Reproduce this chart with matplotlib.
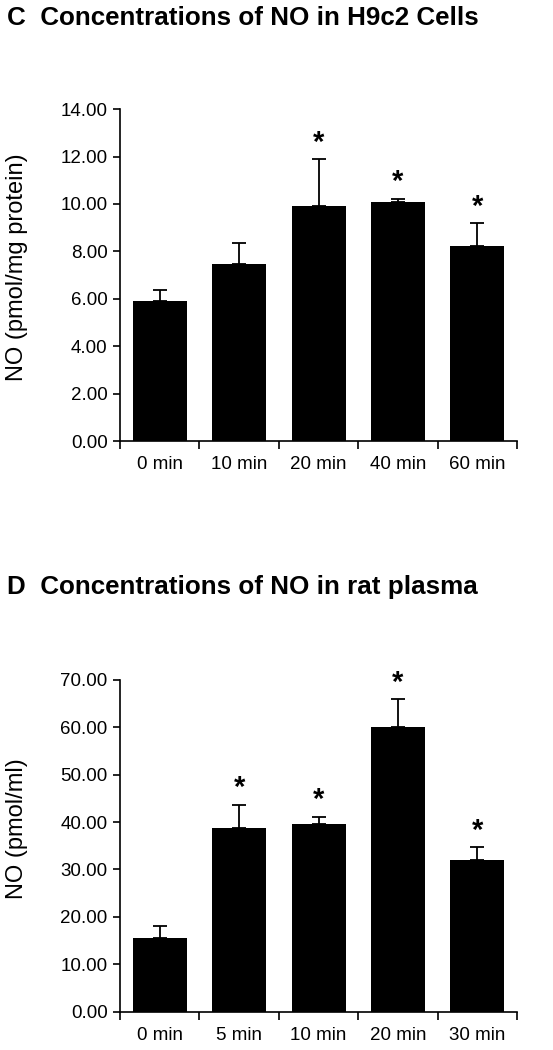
import matplotlib.pyplot as plt
import numpy as np

plt.rcParams['font.family'] = ['Liberation Sans', 'DejaVu Sans']

# panel C: H9c2 cells
cells_labels = ["0 min", "10 min", "20 min", "40 min", "60 min"]
cells_mean = [5.92, 7.45, 9.90, 10.08, 8.22]
cells_err = [0.45, 0.91, 1.98, 0.14, 0.96]
cells_sig = [False, False, True, True, True]

# panel D: rat plasma
plasma_labels = ["0 min", "5 min", "10 min", "20 min", "30 min"]
plasma_mean = [15.6, 38.7, 39.6, 60.1, 32.0]
plasma_err = [2.5, 4.9, 1.5, 5.8, 2.7]
plasma_sig = [False, True, True, True, True]


def draw_panel(ax, labels, mean, err, sig, ymax, step, ylabel, label_y):
    x = np.arange(len(labels))
    ax.bar(x, mean, width=0.68, color="black", zorder=2)
    ax.errorbar(x, mean, yerr=[np.zeros(len(err)), err], fmt="none",
                ecolor="black", elinewidth=1.3, capsize=5, capthick=1.3, zorder=3)
    for xi, m, e, s in zip(x, mean, err, sig):
        if s:
            ax.text(xi, m + e + ymax * 0.008, "*", ha="center", va="bottom",
                    fontsize=21, fontweight="bold")
    ax.set_xlim(-0.5, len(labels) - 0.5)
    ax.set_ylim(0, ymax)
    ticks = np.arange(0, ymax + step / 2, step)
    ax.set_yticks(ticks)
    ax.set_yticklabels([f"{v:.2f}" for v in ticks])
    ax.set_xticks(x)
    ax.set_xticklabels(labels)
    ax.set_xticks(np.arange(-0.5, len(labels)), minor=True)
    ax.tick_params(axis="x", which="major", length=0, pad=11, labelsize=13.5)
    ax.tick_params(axis="x", which="minor", length=6, width=1.2, direction="out")
    ax.tick_params(axis="y", length=5, width=1.2, direction="out", pad=4,
                   labelsize=13.5)
    ax.spines["top"].set_visible(False)
    ax.spines["right"].set_visible(False)
    ax.spines["left"].set_linewidth(1.2)
    ax.spines["bottom"].set_linewidth(1.2)
    ax.set_ylabel(ylabel, fontsize=17)
    ax.yaxis.set_label_coords(-0.232, label_y)


fig = plt.figure(figsize=(5.53, 10.5), dpi=100)

ax1 = fig.add_axes([0.217, 0.58, 0.718, 0.316])
draw_panel(ax1, cells_labels, cells_mean, cells_err, cells_sig, 14, 2,
           "NO (pmol/mg protein)", 0.523)
fig.text(0.012, 0.983, "C  Concentrations of NO in H9c2 Cells", fontsize=18.7,
         fontweight="bold", va="center", ha="left")

ax2 = fig.add_axes([0.217, 0.0365, 0.718, 0.316])
draw_panel(ax2, plasma_labels, plasma_mean, plasma_err, plasma_sig, 70, 10,
           "NO (pmol/ml)", 0.552)
fig.text(0.012, 0.4413, "D  Concentrations of NO in rat plasma", fontsize=18.7,
         fontweight="bold", va="center", ha="left")

fig.savefig("out.png", dpi=100)
